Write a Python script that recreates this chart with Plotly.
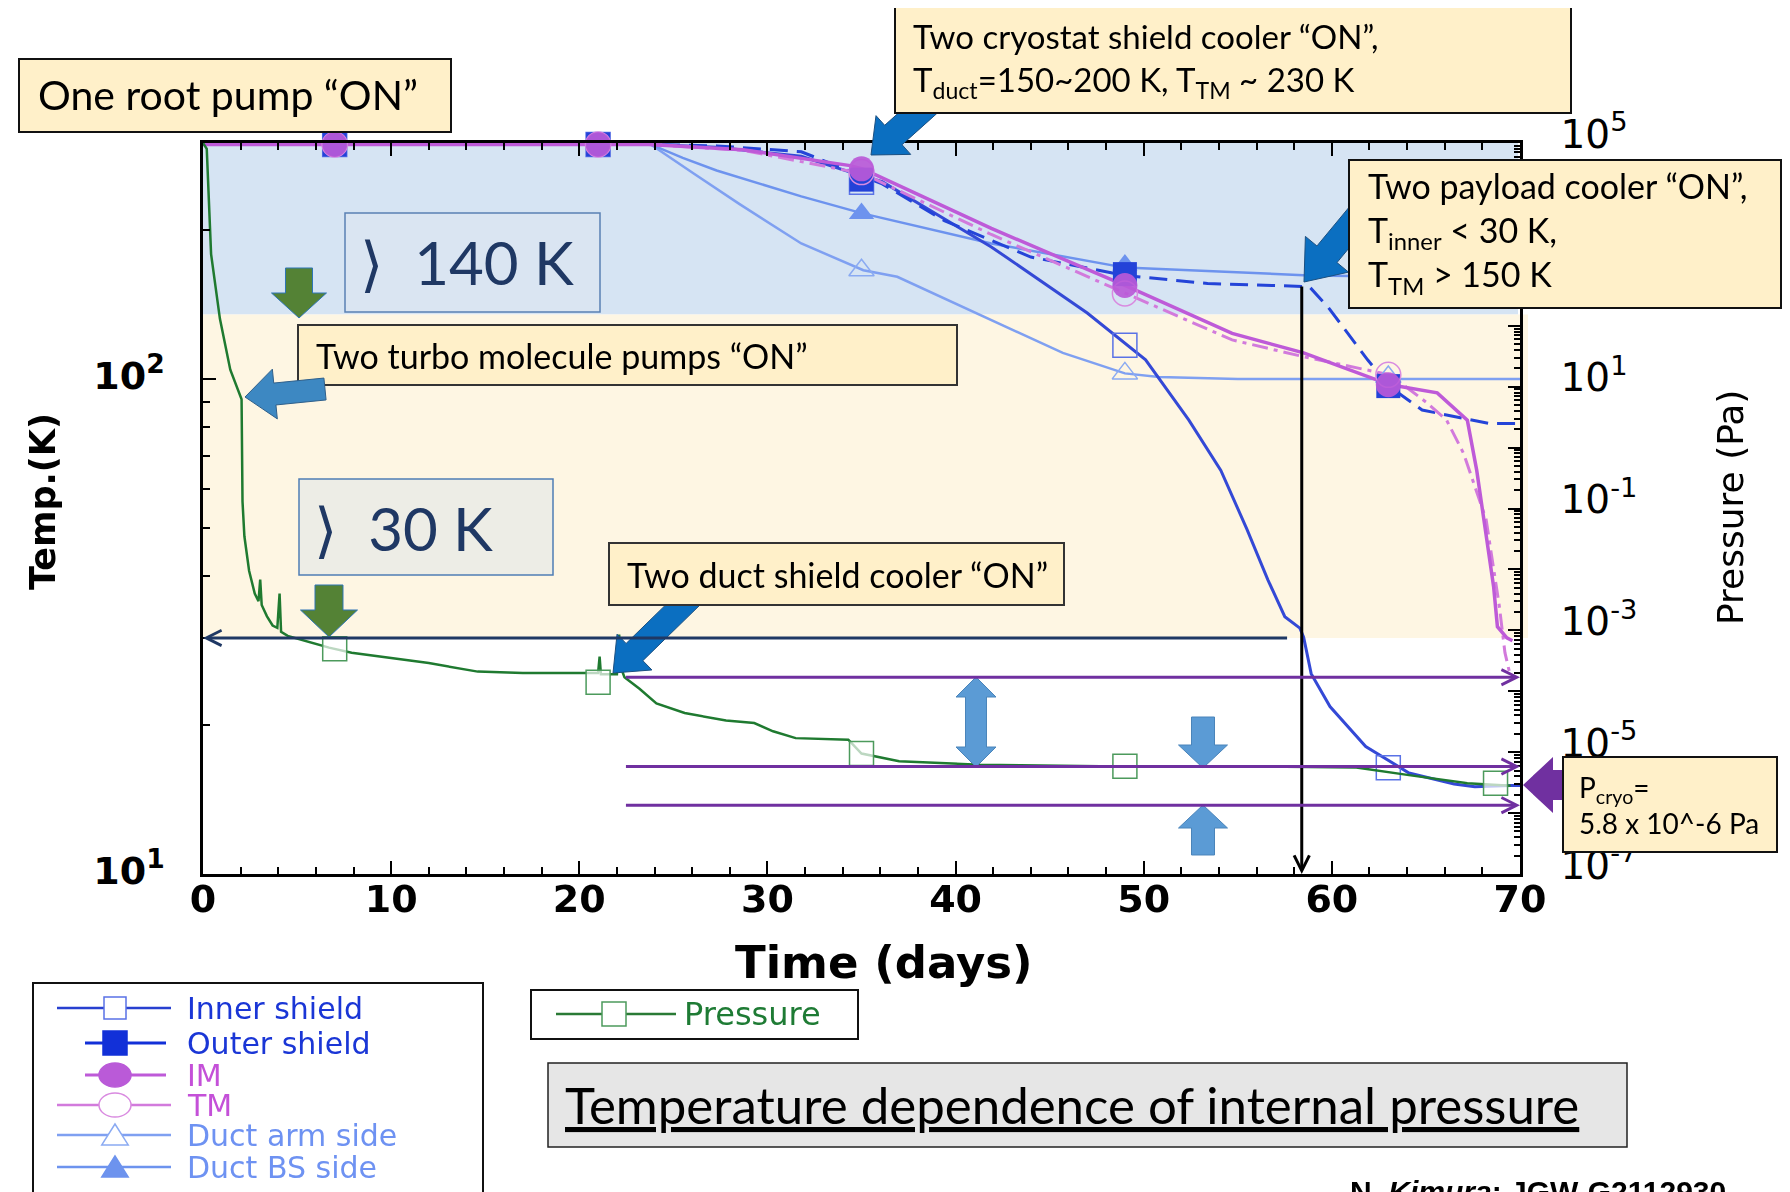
import math
import plotly.graph_objects as go

# ---------------- data ----------------
# Temperatures in K, time in days
inner_days = [0, 23.8, 27.3, 31.8, 34.4, 36.1, 41.9, 47.0, 50.1, 52.4, 54.1, 55.5, 56.6, 57.5,
              58.3, 58.5, 58.9, 59.9, 61.8, 64.1, 66.5, 67.6, 69.5, 70]
inner_temp = [298, 298, 294, 282, 262, 250.6, 185, 136, 109.4, 82.6, 65.4, 49.6, 39.3, 33.1,
              31.4, 30.1, 25.4, 21.8, 18.1, 16.0, 15.2, 15.0, 15.1, 15.1]

outer_days = [0, 23.8, 27.3, 31.8, 36.1, 39.4, 44.0, 49.0, 53.4, 58.8, 59.8, 61.9, 63.1, 64.8, 68.4, 70]
outer_temp = [298, 298, 296, 288, 248, 209, 176.5, 162, 156, 153.8, 139.8, 109.4, 96.3, 86.6, 81.3, 81.3]

im_days = [0, 23.7, 28.7, 34.4, 35.1, 41.9, 49.0, 54.7, 58.5, 63.1, 65.6, 67.2, 67.7, 68.1,
           68.6, 68.8, 69.3, 69.6]
im_temp = [298, 298, 290.8, 270, 265.7, 201.6, 154.6, 123.7, 113, 97.4, 93.8, 82.6, 65.4, 52.0,
           38.0, 31.6, 30.0, 29.6]

tm_days = [0, 23.7, 28.7, 35.1, 41.9, 49.0, 54.7, 58.5, 63.1, 65.0, 66.1, 67.0, 68.2, 68.9, 69.2, 69.5]
tm_temp = [298, 298, 290, 260, 196, 149, 120, 111, 102, 89.9, 82.6, 70.8, 52.0, 34.8, 28.0, 25.0]

arm_days = [0, 23.8, 26.1, 28.5, 31.8, 35.1, 36.9, 41.9, 45.7, 49.0, 50.8, 55.0, 70]
arm_temp = [298, 298, 260, 226, 188, 166, 161, 131.8, 113, 102.7, 101, 100, 100]

bs_days = [0, 23.8, 25.5, 27.3, 31.8, 35.1, 41.9, 49.0, 58.8, 70]
bs_temp = [298, 298, 280, 264, 234, 216, 188, 168, 162, 160]

# Pressure in Pa
p_days = [0, 0.2, 0.43, 0.9, 1.45, 1.95, 2.05, 2.1, 2.2, 2.45, 2.75, 2.95, 3.04, 3.12, 3.4,
          3.7, 3.95, 4.07, 4.15, 4.5, 5.5, 6.7, 7.9, 10, 12, 14.6, 17, 20.2, 21.0, 21.08,
          21.15, 22.0, 22.12, 22.2, 22.4, 23.2, 24.1, 25.6, 27.8, 29.3, 30.3, 31.5, 34.3,
          35.0, 37.0, 41.3, 47.7, 55, 61.3, 64.1, 67.2, 69.5]
p_vals = [1.0e5, 8.0e4, 1.5e3, 1.3e2, 19, 7.9, 6.2, 0.13, 0.035, 9.5e-3, 4.0e-3, 3.0e-3, 6.8e-3,
          2.6e-3, 1.7e-3, 1.2e-3, 1.1e-3, 4.0e-3, 9.5e-4, 8.1e-4, 6.6e-4, 5.2e-4, 4.3e-4,
          3.5e-4, 2.9e-4, 2.1e-4, 2.0e-4, 2.0e-4, 2.0e-4, 3.7e-4, 1.9e-4, 1.9e-4, 8.5e-4,
          2.5e-4, 1.7e-4, 1.1e-4, 6.3e-5, 4.4e-5, 3.3e-5, 3.0e-5, 2.2e-5, 1.7e-5, 1.6e-5,
          9.5e-6, 7.1e-6, 6.2e-6, 5.9e-6, 5.9e-6, 5.6e-6, 4.2e-6, 3.1e-6, 2.8e-6]

# marker points
mk_days = [7, 21, 35, 49, 63]
mk_inner = [298, 298, 250, 117, 16.4]
mk_outer = [298, 298, 253, 163, 96.8]
mk_im = [298, 298, 266, 154.6, 97.4]
mk_tm = [298, 298, 262, 149, 102]
mk_duct_days = [35, 49, 63]
mk_arm = [166, 102.7, 101]
mk_bs = [216, 170, 160]
mk_p_days = [7, 21, 35, 49, 68.7]
mk_p = [5.0e-4, 1.4e-4, 9.5e-6, 5.9e-6, 3.1e-6]

# reference levels
t_warm_band = 135       # upper limit of the "> 30 K" band
t_cold_band = 30        # "> 30 K"
t_top = 300
p_levels = [1.7e-4, 5.8e-6, 1.35e-6]
day_duct_on = 22.4
day_inner_30k = 57.7
day_payload_on = 58.4
t_payload_on = 155

x_ticks = [0, 10, 20, 30, 40, 50, 60, 70]
temp_ticks = [10, 100]
temp_tick_text = ["10<sup>1</sup>", "10<sup>2</sup>"]
pres_exps = list(range(-7, 6))
pres_ticks = [10.0 ** e for e in pres_exps]
pres_tick_text = [("10<sup>%d</sup>" % e) if e % 2 else "" for e in pres_exps]

# ---------------- geometry helpers ----------------
OFF = 8                       # page body margin
W, H = 1790 - OFF, 1192 - OFF
X0, X1, Y0, Y1 = 203, 1520, 143, 874   # plot area in page px


def px(x):
    return (x - OFF) / W


def py(y):
    return 1 - (y - OFF) / H


def temp_paper(t):
    lo, hi = py(Y1), py(Y0)
    return lo + (math.log10(t) - 1) / (math.log10(t_top) - 1) * (hi - lo)


C_INNER = '#3449D6'
C_OUTER = '#2444D8'
C_IM = '#BE5AD8'
C_TM = '#D27ADC'
C_ARM = '#7FA0F1'
C_BS = '#6D93EE'
C_P = '#1F7A30'

fig = go.Figure()


def add_line(xs, ys, color, width, dash='solid', yaxis='y'):
    fig.add_trace(go.Scatter(x=xs, y=ys, mode='lines', yaxis=yaxis, hoverinfo='skip',
                             line=dict(color=color, width=width, dash=dash), showlegend=False))


def add_markers(xs, ys, symbol, color, size, lw=0, lcolor=None, yaxis='y', opacity=1.0):
    fig.add_trace(go.Scatter(x=xs, y=ys, mode='markers', yaxis=yaxis, hoverinfo='skip',
                             cliponaxis=False, opacity=opacity, showlegend=False,
                             marker=dict(symbol=symbol, color=color, size=size,
                                         line=dict(width=lw, color=lcolor or color))))


add_line(arm_days, arm_temp, C_ARM, 2.5)
add_line(bs_days, bs_temp, C_BS, 2.5)
add_line(p_days, p_vals, C_P, 2.5, yaxis='y2')
add_line(inner_days, inner_temp, C_INNER, 3)
add_line(outer_days, outer_temp, C_OUTER, 3, dash='18px,9px')
add_line(tm_days, tm_temp, C_TM, 3, dash='16px,6px,4px,6px')
add_line(im_days, im_temp, C_IM, 3.5)

add_markers(mk_duct_days, mk_arm, 'triangle-up-open', '#8AAAF2', 22, lw=1.5)
add_markers(mk_duct_days, mk_bs, 'triangle-up', C_BS, 22)
add_markers(mk_days, mk_inner, 'square-open', '#5A72E6', 24, lw=1.5)
add_markers(mk_days, mk_outer, 'square', '#2342D8', 24)
add_markers(mk_days, mk_tm, 'circle-open', '#D98AE0', 25, lw=1.5)
add_markers(mk_days, mk_im, 'circle', '#BA5AD8', 25, opacity=0.92)
add_markers(mk_p_days, mk_p, 'square', 'rgba(255,255,255,0.7)', 24, lw=1.5, lcolor='#4C9A5C',
            yaxis='y2')

# ---------------- shapes ----------------
shapes = []
# background bands
shapes.append(dict(type='rect', xref='paper', yref='paper', x0=px(X0), x1=px(X1 - 2),
                   y0=temp_paper(t_warm_band), y1=temp_paper(t_top), layer='below',
                   fillcolor='#D6E4F3', line=dict(width=0)))
shapes.append(dict(type='rect', xref='paper', yref='paper', x0=px(X0), x1=px(X1 + 8),
                   y0=temp_paper(t_cold_band), y1=temp_paper(t_warm_band), layer='below',
                   fillcolor='#FEF6E3', line=dict(width=0)))


def rect(x0, y0, x1, y1, fill, line='#222222', lw=1.5):
    return dict(type='rect', xref='paper', yref='paper', x0=px(x0), x1=px(x1), y0=py(y1),
                y1=py(y0), fillcolor=fill, line=dict(color=line, width=lw), layer='above')


def pts_path(pts):
    return 'M ' + ' L '.join('%.5f,%.5f' % (px(a), py(b)) for a, b in pts) + ' Z'


def block_arrow(tail, tip, w, hw, hl, fill, line='rgba(0,0,0,0)', lw=0):
    (x1, y1), (x2, y2) = tail, tip
    dx, dy = x2 - x1, y2 - y1
    L = math.hypot(dx, dy)
    ux, uy = dx / L, dy / L
    nx, ny = -uy, ux
    bx, by = x2 - ux * hl, y2 - uy * hl
    pts = [(x1 + nx * w / 2, y1 + ny * w / 2), (bx + nx * w / 2, by + ny * w / 2),
           (bx + nx * hw / 2, by + ny * hw / 2), (x2, y2),
           (bx - nx * hw / 2, by - ny * hw / 2), (bx - nx * w / 2, by - ny * w / 2),
           (x1 - nx * w / 2, y1 - ny * w / 2)]
    return dict(type='path', xref='paper', yref='paper', path=pts_path(pts), fillcolor=fill,
                line=dict(color=line, width=lw), layer='above')


def double_arrow(p1, p2, w, hw, hl, fill, line='rgba(0,0,0,0)', lw=0):
    (x1, y1), (x2, y2) = p1, p2
    dx, dy = x2 - x1, y2 - y1
    L = math.hypot(dx, dy)
    ux, uy = dx / L, dy / L
    nx, ny = -uy, ux
    b1x, b1y = x1 + ux * hl, y1 + uy * hl
    b2x, b2y = x2 - ux * hl, y2 - uy * hl
    pts = [(x1, y1), (b1x + nx * hw / 2, b1y + ny * hw / 2), (b1x + nx * w / 2, b1y + ny * w / 2),
           (b2x + nx * w / 2, b2y + ny * w / 2), (b2x + nx * hw / 2, b2y + ny * hw / 2), (x2, y2),
           (b2x - nx * hw / 2, b2y - ny * hw / 2), (b2x - nx * w / 2, b2y - ny * w / 2),
           (b1x - nx * w / 2, b1y - ny * w / 2), (b1x - nx * hw / 2, b1y - ny * hw / 2)]
    return dict(type='path', xref='paper', yref='paper', path=pts_path(pts), fillcolor=fill,
                line=dict(color=line, width=lw), layer='above')


ARROW_BLUE = '#0B6FC1'
# arrows that sit behind their call-out boxes
shapes.append(block_arrow((928, 104), (871, 155), 26, 52, 30, ARROW_BLUE, '#1B4F80', 1))
shapes.append(block_arrow((1362, 212), (1304, 282), 26, 56, 36, ARROW_BLUE, '#1B4F80', 1))
shapes.append(block_arrow((692, 596), (613, 673), 24, 50, 30, ARROW_BLUE, '#1B4F80', 1))
shapes.append(block_arrow((1575, 785), (1523, 785), 30, 56, 30, '#7030A0'))

# call-out boxes
BOX = '#FFF0C9'
shapes.append(rect(19, 59, 451, 132, BOX, '#111111', 2))
shapes.append(rect(895, 7, 1571, 113, BOX, '#111111', 2))
shapes.append(rect(1349, 160, 1781, 308, BOX, '#111111', 2))
shapes.append(rect(298, 325, 957, 385, BOX, '#333333', 2))
shapes.append(rect(609, 543, 1064, 605, BOX, '#333333', 2))
shapes.append(rect(1563, 757, 1777, 852, BOX, '#111111', 2))
shapes.append(rect(345, 213, 600, 312, '#DAE5F2', '#5A80B4', 1.5))
shapes.append(rect(299, 479, 553, 575, '#EDEDE6', '#4F7DB5', 1.5))
# legends and title frames
shapes.append(rect(33, 983, 483, 1215, 'rgba(0,0,0,0)', '#111111', 2))
shapes.append(rect(531, 990, 858, 1039, 'white', '#111111', 2))
shapes.append(rect(548, 1063, 1627, 1147, '#E6E6E6', '#222222', 1.5))

# arrows drawn on top
GREEN = '#548235'
shapes.append(block_arrow((299, 268), (299, 318), 27, 55, 25, GREEN, '#2E75B6', 1))
shapes.append(block_arrow((329, 585), (329, 637), 28, 57, 27, GREEN, '#2E75B6', 1))
shapes.append(block_arrow((325, 389), (245, 397), 22, 50, 30, '#3D88C2', '#2F5F8A', 1))
LB = '#5B9BD5'
shapes.append(double_arrow((976, 677), (976, 767), 21, 40, 20, LB, '#4A84BA', 1))
shapes.append(block_arrow((1203, 717), (1203, 768), 23, 49, 23, LB, '#4A84BA', 1))
shapes.append(block_arrow((1203, 855), (1203, 805), 23, 49, 23, LB, '#4A84BA', 1))

# legend glyphs
def hline(x0, x1, y, color, w=2.5):
    return dict(type='line', xref='paper', yref='paper', x0=px(x0), x1=px(x1), y0=py(y), y1=py(y),
                line=dict(color=color, width=w), layer='above')


def square(cx, cy, s, fill, line, lw=1.5):
    return rect(cx - s / 2, cy - s / 2, cx + s / 2, cy + s / 2, fill, line, lw)


def ellipse(cx, cy, sw, sh, fill, line, lw=1.5):
    return dict(type='circle', xref='paper', yref='paper', x0=px(cx - sw / 2), x1=px(cx + sw / 2),
                y0=py(cy + sh / 2), y1=py(cy - sh / 2), fillcolor=fill,
                line=dict(color=line, width=lw), layer='above')


def triangle(cx, cy, s, fill, line, lw=1.5):
    pts = [(cx - s * 0.6, cy + s * 0.45), (cx, cy - s * 0.5), (cx + s * 0.6, cy + s * 0.45)]
    return dict(type='path', xref='paper', yref='paper', path=pts_path(pts), fillcolor=fill,
                line=dict(color=line, width=lw), layer='above')


leg_y = [1008, 1043, 1075, 1105, 1135, 1167]
shapes += [hline(57, 171, leg_y[0], '#2840D0'), square(115, leg_y[0], 22, 'white', '#5A72E6')]
shapes += [hline(85, 166, leg_y[1], '#1230D8', 3), square(115, leg_y[1], 24, '#1230D8', '#1230D8')]
shapes += [hline(85, 166, leg_y[2], C_IM, 3), ellipse(115, leg_y[2], 32, 24, '#BA5AD8', '#BA5AD8')]
shapes += [hline(57, 171, leg_y[3], C_TM), ellipse(115, leg_y[3], 32, 24, 'white', '#D98AE0')]
shapes += [hline(57, 171, leg_y[4], C_ARM), triangle(115, leg_y[4], 22, 'white', '#8AAAF2')]
shapes += [hline(57, 171, leg_y[5], C_BS), triangle(115, leg_y[5], 22, C_BS, C_BS)]
shapes += [hline(556, 676, 1014, '#2A7A35'), square(614, 1014, 24, 'white', '#4C9A5C')]

# ---------------- annotations ----------------
ann = []


def text(x, y, s, size, color='black', family='Lato', xanchor='left', yanchor='middle',
         angle=0, weight='normal'):
    ann.append(dict(xref='paper', yref='paper', x=px(x), y=py(y), text=s, showarrow=False,
                    font=dict(family=family, size=size, color=color, weight=weight),
                    xanchor=xanchor, yanchor=yanchor, textangle=angle, align='left'))


CHEV = '<span style="font-family:DejaVu Sans">⟩</span>'
text(36, 95, 'One root pump “ON”', 41)
text(911, 60, 'Two cryostat shield cooler “ON”,<br>T<sub>duct</sub>=150~200 K, '
              'T<sub>TM</sub> ~ 230 K', 33)
text(1366, 232, 'Two payload cooler “ON”,<br>T<sub>inner</sub> &lt; 30 K,<br>'
                'T<sub>TM</sub> &gt; 150 K', 34)
text(314, 355, 'Two turbo molecule pumps “ON”', 34)
text(625, 574, 'Two duct shield cooler “ON”', 34)
text(1577, 805, 'P<sub>cryo</sub>=<br>5.8 x 10^-6 Pa', 28)
text(358, 263, CHEV + '&nbsp; 140 K', 60, color='#1F3864')
text(312, 528, CHEV + '&nbsp; 30 K', 60, color='#1F3864')
text(563, 1104, '<u>Temperature dependence of internal pressure</u>', 51)
text(1348, 1173, 'N. <i>Kimura</i>: JGW-G2112930', 30, family='Liberation Sans',
     yanchor='top', weight='bold')

AX_FONT = 'DejaVu Sans'
text(884, 962, 'Time (days)', 45, family=AX_FONT, xanchor='center', weight='bold')
text(43, 502, 'Temp.(K)', 35, family=AX_FONT, xanchor='center', angle=-90, weight='bold')
text(1730, 508, 'Pressure (Pa)', 36, family=AX_FONT, xanchor='center', angle=-90)

leg_names = ['Inner shield', 'Outer shield', 'IM', 'TM', 'Duct arm side', 'Duct BS side']
leg_cols = ['#1A36D6', '#1A36D6', '#C450D8', '#C450D8', '#6E92F2', '#6E92F2']
for name, col, yy in zip(leg_names, leg_cols, leg_y):
    text(185, yy, name, 30, color=col, family=AX_FONT)
text(682, 1014, 'Pressure', 32, color='#1E7B34', family=AX_FONT)

# reference arrows drawn in data coordinates
def arrow(x, y, ax_, ay_, color, yref='y', width=3):
    ann.append(dict(x=x, y=y, ax=ax_, ay=ay_, xref='x', yref=yref, axref='x', ayref=yref,
                    text='', showarrow=True, arrowhead=5, arrowsize=1, arrowwidth=width,
                    arrowcolor=color, standoff=0, startstandoff=0))


arrow(0, math.log10(t_cold_band), day_inner_30k, math.log10(t_cold_band), '#1F3864')
arrow(day_payload_on, 1, day_payload_on, math.log10(t_payload_on), 'black')
for p in p_levels:
    arrow(70, math.log10(p), day_duct_on, math.log10(p), '#7030A0', yref='y2')

# ---------------- layout ----------------
tick_font_b = dict(family=AX_FONT, size=38, color='black', weight='bold')
fig.update_layout(
    width=W, height=H, autosize=False,
    margin=dict(l=0, r=0, t=0, b=0, pad=0, autoexpand=False),
    paper_bgcolor='white', plot_bgcolor='white', showlegend=False,
    shapes=shapes, annotations=ann,
    xaxis=dict(domain=[px(X0), px(X1)], range=[0, 70], tickvals=x_ticks, ticks='inside',
               ticklen=13, tickwidth=2, tickcolor='black', showline=True, linewidth=2.5,
               linecolor='black', mirror='ticks', showgrid=False, zeroline=False,
               automargin=False, tickfont=tick_font_b, ticklabelstandoff=-10,
               minor=dict(dtick=2, tick0=0, ticks='inside', ticklen=7, tickwidth=2,
                          tickcolor='black', showgrid=False)),
    yaxis=dict(domain=[py(Y1), py(Y0)], type='log', range=[1, math.log10(t_top)],
               tickvals=temp_ticks, ticktext=temp_tick_text, ticks='inside', ticklen=13,
               tickwidth=2, tickcolor='black', showline=True, linewidth=2.5, linecolor='black',
               showgrid=False, zeroline=False, automargin=False, tickfont=tick_font_b,
               ticklabelstandoff=28, ticklabelshift=-3,
               minor=dict(tickvals=[m * 10 for m in range(2, 10)] + [200, 300], ticks='inside',
                          ticklen=7, tickwidth=2, tickcolor='black', showgrid=False)),
    yaxis2=dict(type='log', range=[-7, 5], overlaying='y', side='right', anchor='x',
                tickvals=pres_ticks, ticktext=pres_tick_text, ticks='inside', ticklen=12,
                tickwidth=2, tickcolor='black', showline=True, linewidth=2.5, linecolor='black',
                showgrid=False, zeroline=False, automargin=False, ticklabelstandoff=30,
                ticklabelshift=-9,
                tickfont=dict(family=AX_FONT, size=39, color='black'),
                minor=dict(tickvals=[m * 10.0 ** k for k in range(-7, 5) for m in range(2, 10)],
                           ticks='inside', ticklen=6, tickwidth=1.5, tickcolor='black',
                           showgrid=False)),
)

fig.write_html('out.html')
